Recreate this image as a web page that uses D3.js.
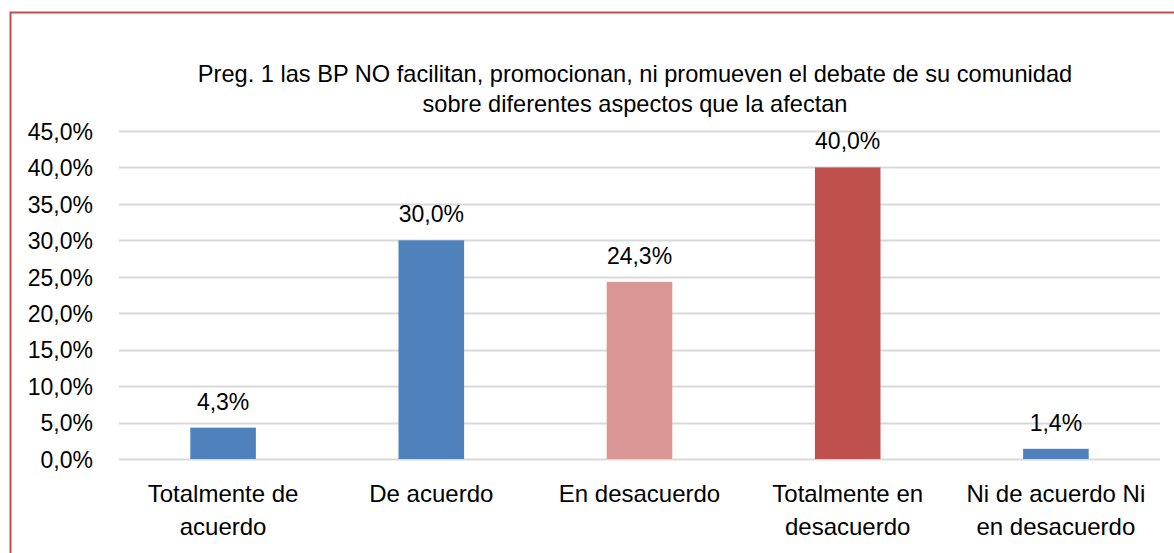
<!DOCTYPE html>
<html><head><meta charset="utf-8">
<script src="https://cdn.jsdelivr.net/npm/d3@7"></script>
<style>body{margin:0;background:#fff}svg{display:block}</style>
</head><body>
<svg id="c" width="1174" height="553"></svg>
<script>
const categories = [["Totalmente de","acuerdo"],["De acuerdo"],["En desacuerdo"],["Totalmente en","desacuerdo"],["Ni de acuerdo Ni","en desacuerdo"]];
const values = [4.3, 30.0, 24.3, 40.0, 1.4];
const barColors = ["#4F81BD","#4F81BD","#D99694","#C0504D","#4F81BD"];
const yTicks = [0,5,10,15,20,25,30,35,40,45];
const titleLines = ["Preg. 1 las BP NO facilitan, promocionan, ni promueven el debate de su comunidad","sobre diferentes aspectos que la afectan"];

const svg = d3.select("#c");
const font = "'Liberation Sans', Arial, sans-serif";
const fmt = v => v.toFixed(1).replace(".", ",") + "%";

svg.append("rect").attr("x",10.5).attr("y",12.5).attr("width",1180).attr("height",600)
  .attr("fill","#fff").attr("stroke","#C0504D").attr("stroke-width",2);

const x = d3.scaleBand().domain(d3.range(values.length)).range([119,1160]).paddingInner(0.685).paddingOuter(0.3425);
const y = d3.scaleLinear().domain([0,45]).range([459,131]);

const grid = svg.append("g");
grid.selectAll("line").data(yTicks).join("line")
  .attr("x1",119).attr("x2",1160).attr("y1",d=>Math.round(y(d))+0.5).attr("y2",d=>Math.round(y(d))+0.5)
  .attr("stroke","#D9D9D9").attr("stroke-width",2);

const yAxis = d3.axisLeft(y).tickValues(yTicks).tickFormat(fmt).tickSize(0).tickPadding(0);
const ya = svg.append("g").attr("transform","translate(93,0)").call(yAxis);
ya.select(".domain").remove();
ya.selectAll("text").attr("font-family",font).attr("font-size",23).attr("fill","#000").attr("dy","0.36em");

svg.append("g").selectAll("rect").data(values).join("rect")
  .attr("x",(d,i)=>x(i)).attr("width",x.bandwidth())
  .attr("y",d=>y(d)).attr("height",d=>y(0)-y(d))
  .attr("fill",(d,i)=>barColors[i]);

svg.append("g").selectAll("text").data(values).join("text")
  .attr("x",(d,i)=>x(i)+x.bandwidth()/2).attr("y",d=>y(d)-18)
  .attr("text-anchor","middle").attr("font-family",font).attr("font-size",23).attr("fill","#000")
  .text(d=>fmt(d));

const cat = svg.append("g").selectAll("text").data(categories).join("text")
  .attr("x",(d,i)=>x(i)+x.bandwidth()/2).attr("y",502)
  .attr("text-anchor","middle").attr("font-family",font).attr("font-size",24).attr("fill","#000");
cat.selectAll("tspan").data(d=>d).join("tspan")
  .attr("x",function(){return this.parentNode.getAttribute("x");})
  .attr("dy",(d,i)=>i?33:0).text(d=>d);

svg.append("g").selectAll("text").data(titleLines).join("text")
  .attr("x",635).attr("y",(d,i)=>82+i*30)
  .attr("text-anchor","middle").attr("font-family",font).attr("font-size",23.6).attr("fill","#000")
  .text(d=>d);
</script>
</body></html>
